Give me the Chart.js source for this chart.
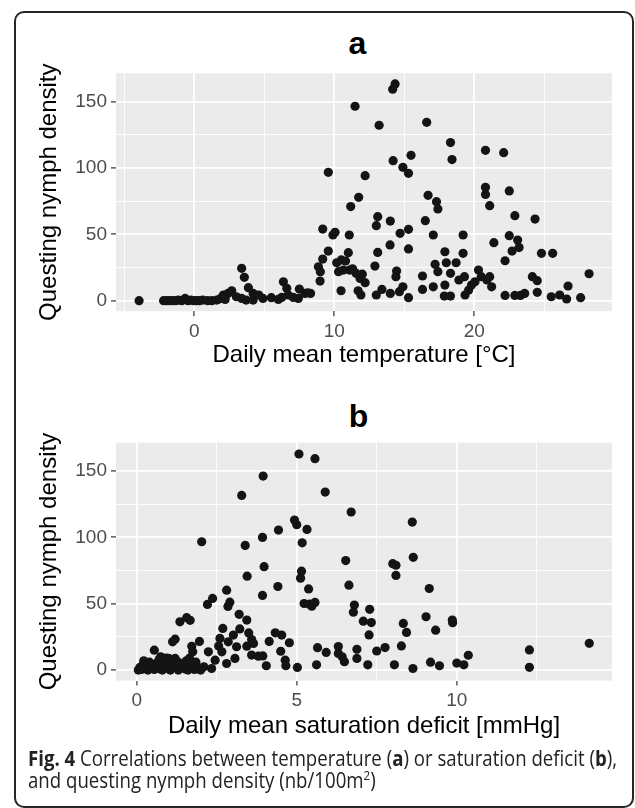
<!DOCTYPE html>
<html>
<head>
<meta charset="utf-8">
<script src="https://cdn.jsdelivr.net/npm/chart.js@4.4.1/dist/chart.umd.min.js"></script>
<style>
  html, body { margin: 0; padding: 0; background: #fff; }
  body { width: 635px; height: 808px; position: relative; overflow: hidden;
         font-family: 'Liberation Sans', Arial, sans-serif; }
  #frame { position: absolute; left: 14px; top: 11px; width: 620px; height: 797px;
           box-sizing: border-box; border: 2px solid #262626; border-radius: 10px; }
  .panel-title { position: absolute; font-weight: bold; font-size: 32px; line-height: 32px;
                 color: #000; transform: translateX(-50%); }
  canvas { position: absolute; left: 0; }
  #caption { position: absolute; left: 28px; top: 747px; font-family: 'Open Sans', sans-serif;
             font-size: 21px; line-height: 22px; color: #222; white-space: nowrap;
             transform-origin: left top; }
  #caption sup { font-size: 13px; line-height: 0; vertical-align: 8px; }
</style>
</head>
<body>
<div id="frame"></div>
<div class="panel-title" style="left:357.5px; top:27px;">a</div>
<div class="panel-title" style="left:358.5px; top:400px;">b</div>
<canvas id="tempChart" width="635" height="385" style="top:0"></canvas>
<canvas id="sdChart" width="635" height="360" style="top:390px"></canvas>
<div id="caption"><span id="capLine1"><b>Fig. 4</b> Correlations between temperature (<b>a</b>) or saturation deficit (<b>b</b>),</span><br>and questing nymph density (nb/100m<sup>2</sup>)</div>

<script>
/* ═══════════════════════════════════════════
   Fig. 4 — nymph density vs temperature / saturation deficit
   ═══════════════════════════════════════════ */

// ── Panel a: daily mean temperature [°C] ─────
const TEMP_X = [
  -3.95, -2.2, -2.0, -1.8, -1.6, -1.35, -1.15, -0.9, -0.66, -0.45, -0.25, -0.05,
  0.15, 0.35, 0.6, 0.95, 1.25, 1.6, 1.85, 2.07, 2.2, 2.4, 2.67, 3.0, 3.38, 3.57,
  3.38, 3.86, 3.7, 4.2, 4.2, 4.6, 4.9, 5.5, 6.0, 6.24, 6.36, 6.6, 6.7, 7.07,
  7.43, 7.5, 7.9, 8.3, 8.1,
  8.86, 9.0, 9.17, 8.98, 9.17, 9.57, 9.57, 9.9, 10.05, 10.17, 10.3, 10.48,
  10.65, 10.8, 11.0, 11.07, 11.1, 11.17, 11.48, 11.55, 11.74, 11.84, 11.7, 11.9,
  12.2, 12.2, 12.9, 13.0, 13.0, 13.1, 13.1, 13.2, 13.4, 13.98, 14.0, 14.0,
  14.17, 14.34, 14.2, 14.45, 14.4, 14.65, 14.7, 14.9, 14.9, 15.3, 15.3, 15.3,
  15.3, 15.48, 16.3, 16.3, 16.5, 16.6, 16.7, 17.07, 17.07, 17.2, 17.3, 17.4,
  17.4, 17.9, 17.9, 17.86, 18.0, 18.3, 18.3, 18.3, 18.41, 18.7, 18.9, 19.2,
  19.2, 19.3, 19.34, 19.6, 19.8, 20.05, 20.3, 20.5, 20.8, 20.8, 20.8, 20.9,
  21.1, 21.1, 21.24, 21.4, 22.1, 22.2, 22.2, 22.5, 22.5, 22.7, 22.9, 22.9,
  23.1, 23.2, 23.3, 23.6, 24.15, 24.34, 24.5, 24.5, 24.8, 25.5, 25.6, 26.1,
  26.6, 26.7, 27.6, 28.2, 10.5, 12.0, 11.3
];
const TEMP_Y = [
  0, 0, 0, 0, 0, 0, 0.5, 0, 1.7, 0, 0.5, 0,
  0, 0, 0.5, 0, 0, 0.5, 1.5, 4.3, 1, 5.5, 7.5, 3, 24.4, 17.6,
  1.7, 9.8, 0.5, 5.5, 0.5, 4.3, 1.7, 2.3, 1, 2.5, 14.3, 9.3, 4.3, 2.5,
  1.7, 8.8, 5.5, 5.5, 6,
  25.6, 21.9, 31.4, 14.8, 54, 37.4, 96.7, 49.5, 51.5, 28.6, 21.9, 7.5,
  23.1, 29.9, 36.2, 49.5, 23.1, 70.9, 146.5, 20.6, 77.9, 16.8, 7.5, 4.3,
  13.6, 94.2, 26.1, 56.5, 4.3, 63.3, 36.4, 132.2, 8.5, 42, 60, 5.5,
  159.3, 163.3, 105.5, 22.4, 18.1, 6.8, 50.8, 100.5, 10.5, 96, 53.8, 39,
  2.3, 109.5, 18.6, 8.5, 60.3, 134.4, 79.4, 49.5, 10.5, 27.4, 74.6, 69.1,
  21.9, 36.9, 11.8, 3.5, 28.6, 20.6, 3.5, 119.1, 106.3, 28.6, 15.6, 49.5,
  35.7, 18.1, 4.3, 8, 11.8, 14.3, 23.1, 18.1, 113.3, 85.4, 80.1, 15.6,
  71.6, 18.1, 10.5, 43.7, 111.5, 30.1, 4.0, 82.7, 49, 37.4, 64.1, 4.0,
  45.7, 40, 4.0, 5.5, 18.1, 61.5, 15.1, 6.3, 35.7, 3, 35.7, 4.3,
  1.3, 11.1, 2.3, 20.3, 30.7, 20, 24
];

// ── Panel b: daily mean saturation deficit [mmHg] ──
const SD_X = [
  5.07, 5.57, 3.95, 3.28, 5.89, 6.7, 8.61, 4.93, 5.0, 5.32, 4.43, 3.93,
  2.03, 3.39, 5.17, 3.98, 3.45, 5.15, 5.12, 6.53, 6.63, 8.0, 8.1, 8.1,
  8.64, 9.14, 4.41, 3.93, 2.81, 2.91, 2.85, 2.37, 2.21, 5.37, 5.23, 5.4,
  5.47, 5.57, 6.8, 6.77, 7.28, 7.08, 7.33, 7.26, 9.04, 9.86, 9.87, 8.33,
  8.43, 9.34, 8.27, 7.76, 7.5, 6.88, 6.88, 7.22, 8.05, 8.63, 9.18, 9.46,
  10.0, 10.22, 10.36, 12.27, 12.27, 14.14,
  6.3, 6.3, 6.42, 6.49, 5.92, 5.65, 5.62, 5.02, 4.77, 4.5, 4.64, 4.66,
  4.33, 4.53, 4.05, 4.14, 3.94, 3.8, 3.59, 3.44, 3.2, 3.5, 3.59, 3.65,
  3.44, 3.22, 3.02, 2.86, 2.6, 2.56, 2.66, 2.45, 2.24, 2.34, 2.81, 3.07,
  3.12, 2.69, 1.96, 1.72, 1.75, 1.67, 1.56, 1.35, 1.2, 1.12, 0.55, 1.0, 1.2,
  0.05, 0.1, 0.15, 0.2, 0.22, 0.3, 0.35, 0.45, 0.55, 0.6, 0.7, 0.72,
  0.8, 0.85, 0.92, 0.95, 1.05, 1.1, 1.25, 1.3, 1.4, 1.5, 1.55, 1.6,
  1.7, 1.8, 1.85, 1.9, 2.0, 2.1, 0.75, 1.3, 0.4, 1.65
];
const SD_Y = [
  162.8, 159.3, 146.2, 131.6, 134.1, 119.1, 111.5, 113, 109.5, 106, 105.5, 100,
  96.7, 93.9, 95.9, 77.9, 70.8, 74.5, 69.3, 82.5, 64, 80.2, 79, 71.3,
  85, 61.5, 63, 56.3, 60.2, 51.2, 48, 54, 49.5, 61.2, 50.2, 49.7,
  48.2, 51, 49, 43.6, 45.8, 36.9, 35.8, 26.5, 40.2, 37.7, 35.7, 35.2,
  28.4, 30.1, 18.2, 17, 14.4, 15.7, 8.8, 4, 4, 1.2, 6, 3.3,
  5.3, 4, 11.2, 15.2, 2.1, 20.2,
  17.8, 12.6, 10, 6.3, 13.3, 16.9, 4, 2, 20.6, 14.2, 7.5, 3.3,
  28.1, 26.4, 3.3, 21.6, 10.7, 10.5, 11.3, 37.7, 42, 28, 23, 20.1,
  18, 31, 26.4, 21.3, 23.9, 18.1, 13.8, 7.5, 13.8, 1.2, 5, 8.8,
  17.6, 31.4, 21.6, 17.9, 13.8, 37.5, 39.5, 36.4, 23.3, 21.3, 15, 8.8, 8.8,
  0, 2, 0.5, 4, 7, 1, 0, 3, 0.5, 5, 8, 1,
  0, 4, 9, 1.5, 0, 5, 2, 0, 4, 1, 7, 0,
  3, 0.5, 6, 1, 0, 2.5, 10, 6, 6, 9
];

// ── Axis ticks (minor ones carry a grid line only) ──
const TEMP_TICKS  = [-5, 0, 5, 10, 15, 20, 25];
const TEMP_LABELS = [0, 10, 20];
const SD_TICKS    = [0, 2.5, 5, 7.5, 10, 12.5];
const SD_LABELS   = [0, 5, 10];
const DENS_TICKS  = [0, 25, 50, 75, 100, 125, 150];
const DENS_LABELS = [0, 50, 100, 150];

// ── Style ─────────────────────────────────────
const FONT  = "'Liberation Sans', Arial, sans-serif";
const PANEL = '#ebebeb';
const DOT   = '#141414';

// grey panel behind the grid
const panelBg = {
  id: 'panelBg',
  beforeDraw(chart) {
    const { ctx, chartArea: a } = chart;
    ctx.save();
    ctx.fillStyle = PANEL;
    ctx.fillRect(a.left, a.top, a.width, a.height);
    ctx.restore();
  }
};

function axis(ticks, labels, min, max, title, titlePad, fitSize, horizontal) {
  const major = c => c.tick && labels.includes(c.tick.value);
  return {
    type: 'linear',
    min, max,
    afterBuildTicks: s => { s.ticks = ticks.map(v => ({ value: v })); },
    afterFit: s => { if (horizontal) s.height = fitSize; else s.width = fitSize; },
    border: { display: false },
    grid: {
      color:      '#ffffff',
      lineWidth:  c => major(c) ? 1.8 : 0.9,
      tickLength: 5,
      tickColor:  c => major(c) ? '#333333' : 'rgba(0,0,0,0)',
      tickWidth:  1.2,
    },
    ticks: {
      autoSkip: false,
      maxRotation: 0,
      padding: 4,
      color: '#4d4d4d',
      font: { size: 19, family: FONT },
      callback: v => labels.includes(v) ? String(v) : ''
    },
    title: {
      display: true,
      text: title,
      color: '#000',
      font: { size: 24, family: FONT },
      padding: titlePad
    }
  };
}

function buildScatter(id, xs, ys, cfg) {
  const points = xs.map((x, i) => ({ x, y: ys[i] }));
  return new Chart(document.getElementById(id).getContext('2d'), {
    type: 'scatter',
    data: {
      datasets: [{
        data: points,
        backgroundColor: DOT,
        borderWidth: 0,
        pointRadius: 4.6,
        pointHoverRadius: 4.6,
      }]
    },
    options: {
      responsive: false,
      animation: false,
      events: [],
      layout: { padding: { top: cfg.top, right: 23, bottom: 0, left: 0 } },
      plugins: {
        legend:  { display: false },
        tooltip: { enabled: false },
      },
      scales: {
        x: axis(cfg.xTicks, cfg.xLabels, cfg.xMin, cfg.xMax, cfg.xTitle,
                { top: 0, bottom: cfg.xTitlePad }, cfg.xHeight, true),
        y: axis(DENS_TICKS, DENS_LABELS, -7.9, 171.4, 'Questing nymph density',
                { top: 35, bottom: 0 }, 116, false)
      }
    },
    plugins: [panelBg]
  });
}

// ── Panels ────────────────────────────────────
buildScatter('tempChart', TEMP_X, TEMP_Y, {
  top: 73.2, xHeight: 73.8, xTitlePad: 14.9,
  xMin: -5.6, xMax: 29.84,
  xTicks: TEMP_TICKS, xLabels: TEMP_LABELS,
  xTitle: 'Daily mean temperature [°C]'
});

buildScatter('sdChart', SD_X, SD_Y, {
  top: 52.6, xHeight: 69.4, xTitlePad: 8.9,
  xMin: -0.647, xMax: 14.85,
  xTicks: SD_TICKS, xLabels: SD_LABELS,
  xTitle: 'Daily mean saturation deficit [mmHg]'
});

// ── Caption: squeeze to the condensed width of the original ──
const cap = document.getElementById('caption');
const w1  = document.getElementById('capLine1').getBoundingClientRect().width;
cap.style.transform = 'scaleX(' + (589 / w1) + ')';
</script>
</body>
</html>
